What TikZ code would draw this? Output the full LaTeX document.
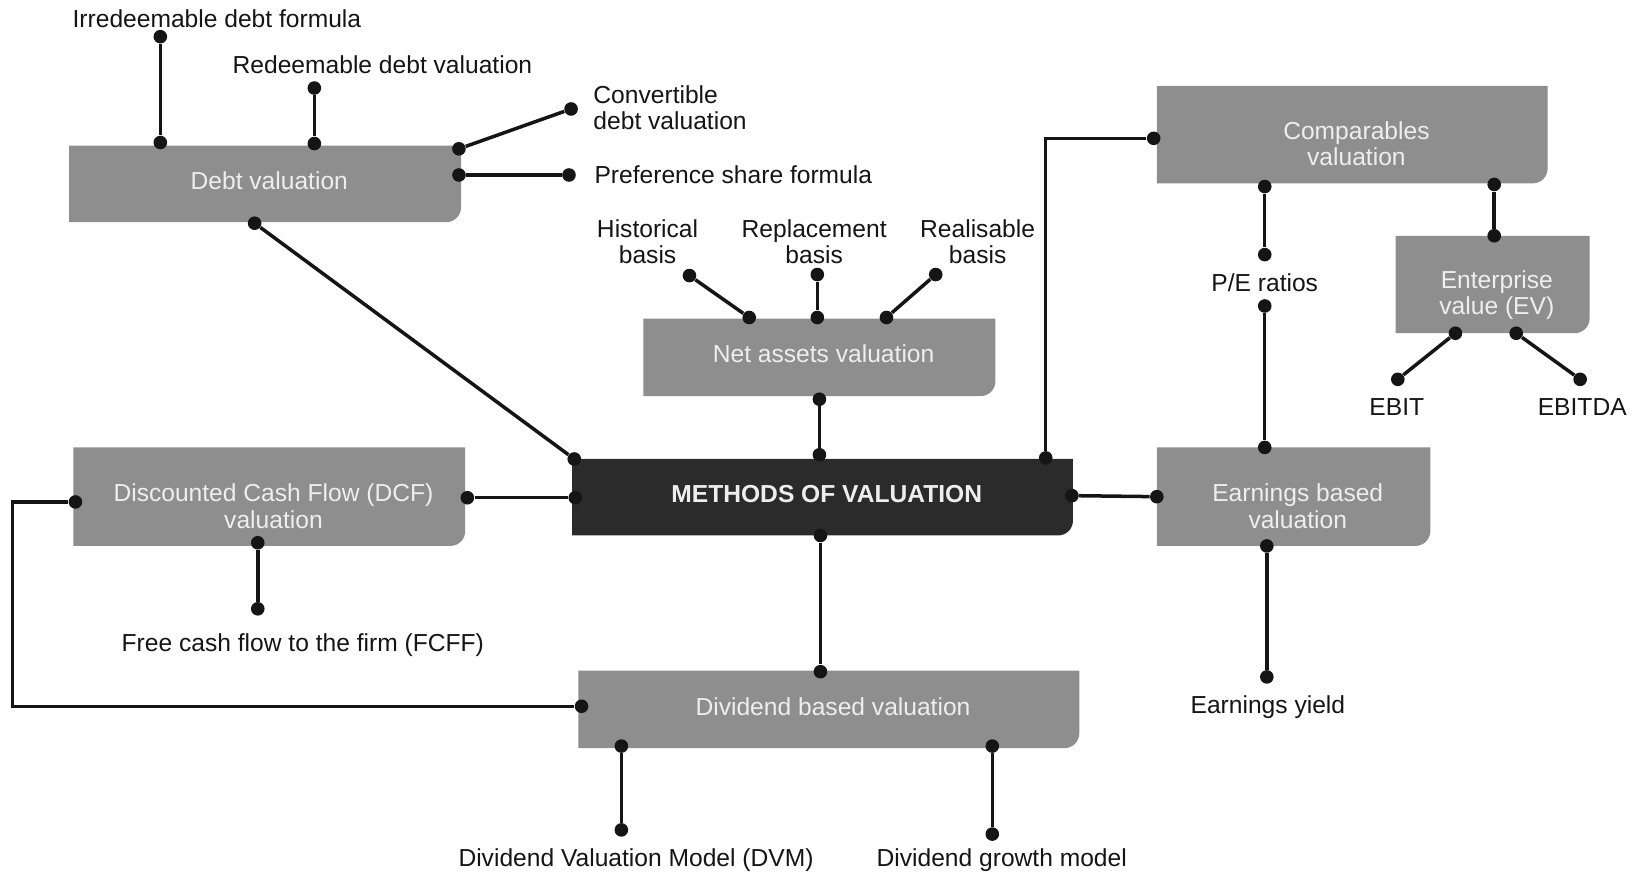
\documentclass[tikz,border=0pt]{standalone}
\usepackage{fontspec}
\setmainfont{Liberation Sans}
\usetikzlibrary{calc}
\definecolor{boxgray}{HTML}{8E8E8E}
\definecolor{boxdark}{HTML}{2B2B2B}
\definecolor{boxtext}{HTML}{EEEEEE}
\definecolor{ink}{HTML}{151515}
\newcommand{\valbox}[8]{%
  \fill[#6] (#2,#3) -- (#4,#3) -- ($(#4,#5)+(0pt,7.5pt)$)
    .. controls ($(#4,#5)+(0pt,3.3pt)$) and ($(#4,#5)+(-3.3pt,0pt)$) .. ($(#4,#5)+(-7.5pt,0pt)$)
    -- (#2,#5) -- cycle;
  \node[boxlabel] (#1) at ($($(#2,#3)!0.5!(#4,#5)$)+(4,#7)$) {#8};}
\begin{document}
\begin{tikzpicture}[x=0.5239pt,y=-0.5239pt,
  boxlabel/.style={text=boxtext,align=center,inner sep=0pt,font=\fontsize{12.3}{13.1}\selectfont},
  lab/.style={text=ink,align=center,inner sep=0pt,font=\fontsize{12.3}{13.1}\selectfont},
  dot/.style={circle,fill=ink,inner sep=0pt,minimum size=6.8pt},
  conn/.style={draw=ink,line width=1.75pt}]
\useasboundingbox (0,0) rectangle (1568,834);
% boxes
\valbox{debt}{66}{139}{440}{212}{boxgray}{-3}{Debt valuation}
\valbox{net}{614}{304}{950}{378}{boxgray}{-3}{Net assets valuation}
\valbox{meth}{546}{438}{1024}{511}{boxdark}{-3}{\textbf{METHODS OF VALUATION}}
\valbox{dcf}{70}{427}{444}{521}{boxgray}{9}{Discounted Cash Flow (DCF)\\valuation}
\valbox{div}{552}{640}{1030}{714}{boxgray}{-3}{Dividend based valuation}
\valbox{comp}{1104}{82}{1477}{175}{boxgray}{9}{Comparables\\valuation}
\valbox{ev}{1332}{225}{1517}{318}{boxgray}{10}{Enterprise\\value (EV)}
\valbox{earn}{1104}{427}{1365}{521}{boxgray}{9}{Earnings based\\valuation}
% labels
\node[lab] (lIrr) at (207,18) {Irredeemable debt formula};
\node[lab] (lRed) at (365,62) {Redeemable debt valuation};
\node[lab,anchor=west,align=left] (lConv) at (566,103) {Convertible\\debt valuation};
\node[lab,anchor=west] (lPref) at (567,167) {Preference share formula};
\node[lab] (lHist) at (618,231) {Historical\\basis};
\node[lab] (lRepl) at (777,231) {Replacement\\basis};
\node[lab] (lReal) at (933,231) {Realisable\\basis};
\node[lab] (lFcff) at (289,616) {Free cash flow to the firm (FCFF)};
\node[lab] (lDvm) at (607,821) {Dividend Valuation Model (DVM)};
\node[lab] (lGrow) at (956,821) {Dividend growth model};
\node[lab] (lPe) at (1207,270) {P/E ratios};
\node[lab] (lYield) at (1210,675) {Earnings yield};
\node[lab] (lEbit) at (1333,388) {EBIT};
\node[lab] (lEbitda) at (1510,388) {EBITDA};
% dots
\node[dot] (dIrr) at (153,35) {};
\node[dot] (dDebtT1) at (153,136) {};
\node[dot] (dRed) at (300,84) {};
\node[dot] (dDebtT2) at (300,137) {};
\node[dot] (dConv) at (545,104) {};
\node[dot] (dDebtR1) at (438,142) {};
\node[dot] (dPref) at (543,167) {};
\node[dot] (dDebtR2) at (438,167) {};
\node[dot] (dDebtB) at (243,213) {};
\node[dot] (dMTL) at (548,438) {};
\node[dot] (dHist) at (658,263) {};
\node[dot] (dNetT1) at (715,303) {};
\node[dot] (dRepl) at (780,262) {};
\node[dot] (dNetT2) at (780,303) {};
\node[dot] (dReal) at (893,262) {};
\node[dot] (dNetT3) at (846,303) {};
\node[dot] (dNetB) at (782,381) {};
\node[dot] (dMT) at (782,434) {};
\node[dot] (dMTR) at (998,437) {};
\node[dot] (dML) at (549,475) {};
\node[dot] (dMR) at (1023,473) {};
\node[dot] (dMB) at (783,511) {};
\node[dot] (dDcfR) at (446,475) {};
\node[dot] (dDcfL) at (72,479) {};
\node[dot] (dDcfB) at (246,518) {};
\node[dot] (dFcff) at (246,581) {};
\node[dot] (dDivT) at (783,641) {};
\node[dot] (dDivL) at (555,674) {};
\node[dot] (dDivB1) at (593,712) {};
\node[dot] (dDivB2) at (947,712) {};
\node[dot] (dDvm) at (593,792) {};
\node[dot] (dGrow) at (947,796) {};
\node[dot] (dCompL) at (1101,132) {};
\node[dot] (dCompB1) at (1207,178) {};
\node[dot] (dCompB2) at (1426,176) {};
\node[dot] (dPe1) at (1207,243) {};
\node[dot] (dPe2) at (1207,292) {};
\node[dot] (dEarnT) at (1207,427) {};
\node[dot] (dEarnL) at (1104,474) {};
\node[dot] (dEarnB) at (1209,521) {};
\node[dot] (dYield) at (1209,646) {};
\node[dot] (dEvT) at (1426,225) {};
\node[dot] (dEvB1) at (1389,318) {};
\node[dot] (dEvB2) at (1447,318) {};
\node[dot] (dEbit) at (1334,362) {};
\node[dot] (dEbitda) at (1508,362) {};
\coordinate (loopc) at (12,479);
% connectors
\draw[conn] (dIrr) -- (dDebtT1);
\draw[conn] (dRed) -- (dDebtT2);
\draw[conn] (dConv) -- (dDebtR1);
\draw[conn] (dPref) -- (dDebtR2);
\draw[conn] (dDebtB) -- (dMTL);
\draw[conn] (dHist) -- (dNetT1);
\draw[conn] (dRepl) -- (dNetT2);
\draw[conn] (dReal) -- (dNetT3);
\draw[conn] (dNetB) -- (dMT);
\draw[conn] (dDcfR) -- (dML);
\draw[conn] (dDcfB) -- (dFcff);
\draw[conn] (dDcfL) -- (loopc) |- (dDivL);
\draw[conn] (dMB) -- (dDivT);
\draw[conn] (dDivB1) -- (dDvm);
\draw[conn] (dDivB2) -- (dGrow);
\draw[conn] (dMTR) |- (dCompL);
\draw[conn] (dMR) -- (dEarnL);
\draw[conn] (dCompB1) -- (dPe1);
\draw[conn] (dPe2) -- (dEarnT);
\draw[conn] (dEarnB) -- (dYield);
\draw[conn] (dCompB2) -- (dEvT);
\draw[conn] (dEvB1) -- (dEbit);
\draw[conn] (dEvB2) -- (dEbitda);
\end{tikzpicture}
\end{document}
